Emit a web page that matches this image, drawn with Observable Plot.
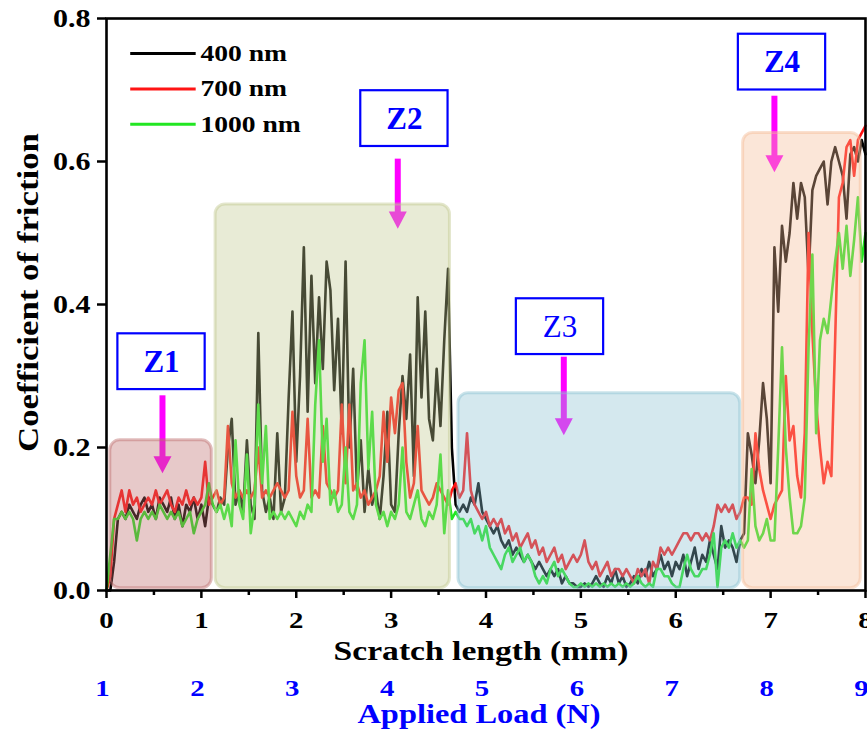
<!DOCTYPE html>
<html>
<head>
<meta charset="utf-8">
<script src="https://cdn.jsdelivr.net/npm/d3@7"></script>
<script src="https://cdn.jsdelivr.net/npm/@observablehq/plot@0.6"></script>
<style>
  html, body { margin: 0; padding: 0; background: #fff; }
  #chart { width: 867px; height: 732px; overflow: hidden; }
</style>
</head>
<body>
<div id="chart"></div>
<script>
// Sampling interval of the friction traces along the scratch (mm)
const step = 0.04;

// Coefficient of friction, 400 nm coating
const cof400 = [
  0.00, 0.00, 0.04, 0.10, 0.11, 0.10, 0.12, 0.11, 0.10, 0.12, 0.13, 0.11, 0.12, 0.10, 0.13, 0.12, 0.11, 0.13, 0.10, 0.12, 0.09, 0.12, 0.11, 0.13, 0.10,
  0.12, 0.09, 0.13, 0.12, 0.11, 0.13, 0.12, 0.20, 0.24, 0.12, 0.14, 0.11, 0.21, 0.12, 0.10, 0.36, 0.14, 0.11, 0.13, 0.10, 0.22, 0.11, 0.13, 0.27, 0.39,
  0.18, 0.30, 0.48, 0.25, 0.44, 0.29, 0.41, 0.31, 0.46, 0.42, 0.28, 0.38, 0.22, 0.46, 0.20, 0.31, 0.14, 0.21, 0.11, 0.17, 0.12, 0.14, 0.10, 0.16, 0.25,
  0.12, 0.11, 0.22, 0.30, 0.24, 0.33, 0.16, 0.41, 0.27, 0.39, 0.24, 0.21, 0.31, 0.23, 0.35, 0.45, 0.20, 0.12, 0.11, 0.12, 0.11, 0.13, 0.12, 0.15, 0.11,
  0.10, 0.09, 0.08, 0.09, 0.07, 0.06, 0.07, 0.05, 0.06, 0.05, 0.04, 0.05, 0.04, 0.03, 0.04, 0.03, 0.02, 0.03, 0.02, 0.03, 0.01, 0.02, 0.01, 0.01, 0.005,
  0.005, 0.01, 0.005, 0.01, 0.02, 0.01, 0.005, 0.02, 0.01, 0.03, 0.01, 0.02, 0.005, 0.01, 0.02, 0.01, 0.03, 0.02, 0.04, 0.02, 0.03, 0.05, 0.03, 0.04, 0.02,
  0.04, 0.03, 0.05, 0.02, 0.04, 0.06, 0.03, 0.05, 0.04, 0.07, 0.05, 0.03, 0.09, 0.06, 0.07, 0.06, 0.04, 0.07, 0.08, 0.22, 0.19, 0.15, 0.21, 0.29, 0.24,
  0.15, 0.48, 0.39, 0.51, 0.46, 0.50, 0.57, 0.52, 0.57, 0.55, 0.44, 0.56, 0.58, 0.59, 0.60, 0.54, 0.60, 0.62, 0.60, 0.58, 0.52, 0.61, 0.62, 0.60, 0.63,
  0.61
];

// Coefficient of friction, 700 nm coating
const cof700 = [
  0.00, 0.02, 0.10, 0.12, 0.14, 0.11, 0.14, 0.12, 0.13, 0.11, 0.12, 0.13, 0.12, 0.14, 0.12, 0.13, 0.14, 0.12, 0.11, 0.13, 0.12, 0.14, 0.12, 0.13, 0.12,
  0.13, 0.18, 0.12, 0.13, 0.14, 0.12, 0.13, 0.23, 0.15, 0.13, 0.14, 0.13, 0.14, 0.13, 0.14, 0.20, 0.13, 0.14, 0.13, 0.14, 0.15, 0.14, 0.13, 0.14, 0.25,
  0.16, 0.13, 0.14, 0.24, 0.13, 0.14, 0.13, 0.23, 0.15, 0.14, 0.13, 0.14, 0.26, 0.15, 0.26, 0.14, 0.15, 0.13, 0.14, 0.12, 0.13, 0.14, 0.16, 0.25, 0.18,
  0.27, 0.22, 0.28, 0.29, 0.18, 0.13, 0.15, 0.23, 0.14, 0.13, 0.12, 0.13, 0.15, 0.14, 0.13, 0.12, 0.14, 0.15, 0.13, 0.14, 0.22, 0.14, 0.12, 0.11, 0.10,
  0.11, 0.09, 0.10, 0.09, 0.10, 0.08, 0.09, 0.07, 0.08, 0.06, 0.07, 0.08, 0.06, 0.07, 0.05, 0.06, 0.04, 0.05, 0.06, 0.04, 0.05, 0.03, 0.04, 0.05, 0.04,
  0.05, 0.07, 0.04, 0.03, 0.04, 0.02, 0.03, 0.04, 0.02, 0.03, 0.03, 0.02, 0.03, 0.02, 0.01, 0.03, 0.02, 0.03, 0.01, 0.04, 0.03, 0.06, 0.05, 0.06, 0.05,
  0.06, 0.07, 0.08, 0.08, 0.07, 0.08, 0.08, 0.07, 0.08, 0.07, 0.09, 0.12, 0.11, 0.12, 0.11, 0.12, 0.10, 0.11, 0.13, 0.13, 0.12, 0.22, 0.17, 0.14, 0.12,
  0.10, 0.12, 0.13, 0.14, 0.30, 0.21, 0.23, 0.16, 0.13, 0.22, 0.50, 0.36, 0.26, 0.20, 0.15, 0.18, 0.16, 0.35, 0.55, 0.57, 0.62, 0.63, 0.58, 0.63, 0.64,
  0.65
];

// Coefficient of friction, 1000 nm coating
const cof1000 = [
  0.00, 0.05, 0.10, 0.10, 0.11, 0.10, 0.11, 0.10, 0.07, 0.10, 0.11, 0.10, 0.11, 0.10, 0.12, 0.11, 0.10, 0.11, 0.10, 0.11, 0.09, 0.10, 0.11, 0.08, 0.10,
  0.11, 0.12, 0.15, 0.12, 0.11, 0.12, 0.10, 0.12, 0.09, 0.21, 0.12, 0.10, 0.19, 0.08, 0.12, 0.26, 0.15, 0.23, 0.10, 0.11, 0.10, 0.11, 0.10, 0.11, 0.10,
  0.09, 0.11, 0.10, 0.12, 0.11, 0.26, 0.35, 0.18, 0.24, 0.12, 0.14, 0.11, 0.12, 0.20, 0.11, 0.10, 0.12, 0.29, 0.35, 0.17, 0.25, 0.12, 0.10, 0.11, 0.09,
  0.11, 0.10, 0.12, 0.20, 0.11, 0.10, 0.12, 0.14, 0.10, 0.09, 0.11, 0.10, 0.12, 0.19, 0.08, 0.14, 0.10, 0.11, 0.10, 0.10, 0.09, 0.10, 0.08, 0.09, 0.07,
  0.09, 0.06, 0.05, 0.04, 0.03, 0.05, 0.06, 0.04, 0.05, 0.06, 0.04, 0.05, 0.04, 0.02, 0.01, 0.02, 0.01, 0.03, 0.04, 0.02, 0.03, 0.02, 0.01, 0.005, 0.005,
  0.01, 0.005, 0.01, 0.005, 0.01, 0.005, 0.01, 0.005, 0.01, 0.005, 0.01, 0.005, 0.01, 0.005, 0.01, 0.02, 0.01, 0.005, 0.01, 0.005, 0.03, 0.03, 0.02, 0.02, 0.01,
  0.005, 0.005, 0.03, 0.05, 0.03, 0.02, 0.02, 0.03, 0.03, 0.05, 0.08, 0.005, 0.06, 0.07, 0.06, 0.08, 0.06, 0.07, 0.06, 0.07, 0.17, 0.09, 0.07, 0.08, 0.10,
  0.07, 0.07, 0.20, 0.34, 0.20, 0.13, 0.08, 0.08, 0.09, 0.13, 0.34, 0.47, 0.22, 0.35, 0.38, 0.36, 0.41, 0.46, 0.50, 0.45, 0.51, 0.44, 0.49, 0.55, 0.46,
  0.50
];

const seriesNames = ["400 nm", "700 nm", "1000 nm"];
const seriesValues = [cof400, cof700, cof1000];
const seriesColors = ["#000000", "#ff1414", "#22e622"];

// Axis ticks
const xTicks = [0, 1, 2, 3, 4, 5, 6, 7, 8];             // scratch length (mm)
const xMinorTicks = [0.5, 1.5, 2.5, 3.5, 4.5, 5.5, 6.5, 7.5];
const yTicks = [0, 0.2, 0.4, 0.6, 0.8];
const loadTicks = [1, 2, 3, 4, 5, 6, 7, 8, 9];           // applied load (N), 1 N per mm

// Wear zones along the scratch
const zoneNames = ["Z1", "Z2", "Z3", "Z4"];
const zoneStart = [0.04, 1.15, 3.71, 6.71];   // mm
const zoneEnd   = [1.11, 3.62, 6.68, 7.95];   // mm
const zoneTop   = [0.21, 0.54, 0.276, 0.64];  // COF
const zoneColors = ["rgb(189,108,108)", "rgb(192,200,143)", "rgb(138,192,208)", "rgb(243,186,149)"];

// Zone callouts: label centre and arrow path
const labelX = [0.58, 3.14, 4.78, 7.12];
const labelY = [0.32, 0.66, 0.369, 0.739];
const arrowX = [0.59, 3.07, 4.82, 7.04];
const arrowTop = [0.273, 0.604, 0.327, 0.692];
const arrowTip = [0.164, 0.506, 0.217, 0.585];

const traces = seriesValues.map((vals, s) =>
  vals.map((v, i) => ({series: seriesNames[s], x: +(i * step).toFixed(2), y: v}))
);

const zones = zoneNames.map((name, i) => ({
  name, x1: zoneStart[i], x2: zoneEnd[i], top: zoneTop[i], color: zoneColors[i]
}));

const callouts = zoneNames.map((name, i) => ({
  name, cx: labelX[i], cy: labelY[i], ax: arrowX[i], top: arrowTop[i], tip: arrowTip[i]
}));

// box half-size in data units (mm, COF)
const boxHW = 0.46, boxHH = 0.039;

// downward arrowhead with its tip at the anchor point
const headDown = {
  draw(ctx, size) {
    const r = Math.sqrt(size / Math.PI);
    ctx.moveTo(0, 0);
    ctx.lineTo(-r, -1.9 * r);
    ctx.lineTo(r, -1.9 * r);
    ctx.closePath();
  }
};

const serif = "'Liberation Serif', 'Times New Roman', serif";
const magenta = "#ff00ff";

const chart = Plot.plot({
  width: 867,
  height: 732,
  marginLeft: 106,
  marginRight: 2,
  marginTop: 18,
  marginBottom: 142,
  style: {fontFamily: serif, background: "white", color: "black"},
  x: {domain: [0, 8]},
  y: {domain: [0, 0.8]},
  marks: [
    // friction traces
    ...traces.map((t, s) => Plot.line(t, {
      x: "x", y: "y", stroke: seriesColors[s], strokeWidth: 2.6
    })),
    // callout arrows
    Plot.link(callouts, {
      x1: "ax", x2: "ax", y1: "top", y2: d => d.tip + 0.02,
      stroke: magenta, strokeWidth: 6, strokeLinecap: "butt"
    }),
    Plot.dot(callouts, {
      x: "ax", y: "tip", symbol: headDown, r: 9, fill: magenta, stroke: "none"
    }),
    // translucent zone overlays
    ...zones.map(z => Plot.rect([z], {
      x1: "x1", x2: "x2", y1: 0.003, y2: "top",
      fill: z.color, fillOpacity: 0.37,
      stroke: z.color, strokeOpacity: 0.45, strokeWidth: 3, rx: 10
    })),
    // zone labels
    Plot.rect(callouts, {
      x1: d => d.cx - boxHW, x2: d => d.cx + boxHW,
      y1: d => d.cy - boxHH, y2: d => d.cy + boxHH,
      fill: "white", stroke: "#0000ff", strokeWidth: 2.2
    }),
    Plot.text(callouts.filter(d => d.name !== "Z3"), {
      x: "cx", y: "cy", text: "name", fill: "#0000ff",
      fontSize: 31, fontWeight: "bold", className: "zlab"
    }),
    Plot.text(callouts.filter(d => d.name === "Z3"), {
      x: "cx", y: "cy", text: "name", fill: "#0000ff",
      fontSize: 31, fontWeight: "normal", className: "zlab"
    }),
    // legend
    ...seriesNames.map((name, i) => Plot.link([name], {
      x1: 0.25, x2: 0.94, y1: 0.751 - 0.0495 * i, y2: 0.751 - 0.0495 * i,
      stroke: seriesColors[i], strokeWidth: 3
    })),
    Plot.text(seriesNames, {
      x: 0.99, y: (d, i) => 0.751 - 0.0495 * i, text: d => d,
      textAnchor: "start", fontSize: 23, fontWeight: "bold", fill: "black"
    }),
    // axes
    Plot.axisY({
      ticks: yTicks, tickSize: 9, tickPadding: 7, strokeWidth: 2.5,
      tickFormat: d3.format(".1f"), fontSize: 25, fontWeight: "bold", label: null
    }),
    Plot.axisX({
      ticks: xTicks, tickSize: 8, tickPadding: 12, strokeWidth: 2.5,
      tickFormat: d3.format("d"), fontSize: 24, fontWeight: "bold", label: null
    }),
    Plot.axisX({
      ticks: xMinorTicks, tickSize: 5, strokeWidth: 2.5,
      tickFormat: () => "", label: null
    }),
    Plot.frame({stroke: "black", strokeWidth: 2.6}),
    // axis titles
    Plot.text(["Coefficient of friction"], {
      frameAnchor: "left", textAnchor: "middle", lineAnchor: "middle",
      rotate: -90, dx: -78, dy: -12,
      fontSize: 29, fontWeight: "bold", fill: "black"
    }),
    Plot.text(["Scratch length (mm)"], {
      frameAnchor: "bottom", lineAnchor: "middle", dx: -5, dy: 61,
      fontSize: 28, fontWeight: "bold", fill: "black"
    }),
    // secondary scale: applied load
    Plot.text(loadTicks, {
      x: d => d - 1, frameAnchor: "bottom", lineAnchor: "middle", dx: -4, dy: 98,
      text: d => String(d), fontSize: 24, fontWeight: "bold", fill: "#0000ff"
    }),
    Plot.text(["Applied Load (N)"], {
      frameAnchor: "bottom", lineAnchor: "middle", dx: -7, dy: 124,
      fontSize: 27, fontWeight: "bold", fill: "#0000ff"
    })
  ]
});

document.getElementById("chart").append(chart);

// the figure's lettering is set slightly wide
chart.querySelectorAll("text").forEach(t => {
  if (t.closest(".zlab")) return;
  const len = t.getComputedTextLength();
  if (len > 0) {
    t.setAttribute("textLength", (len * 1.2).toFixed(1));
    t.setAttribute("lengthAdjust", "spacingAndGlyphs");
  }
});
</script>
</body>
</html>
